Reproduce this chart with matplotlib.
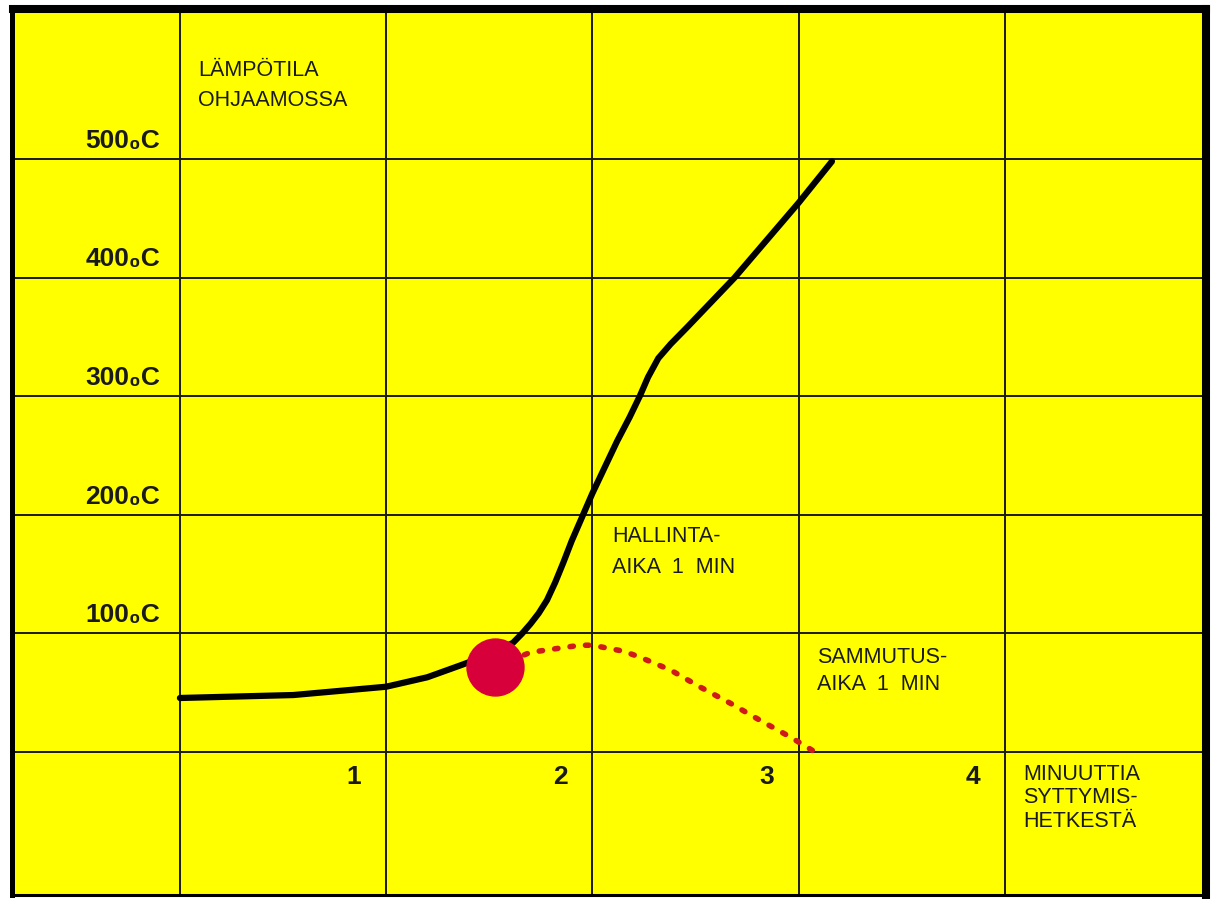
import matplotlib
matplotlib.use('Agg')
import matplotlib.pyplot as plt

# Lampotila ohjaamossa (musta kayra)
aika_min = [0, 0.55, 1.0, 1.2, 1.36, 1.5, 1.615, 1.66, 1.70, 1.74, 1.78, 1.82, 1.86,
            1.90, 1.955, 2.0, 2.06, 2.12, 2.18, 2.23, 2.27, 2.32, 2.38, 2.459,
            2.69, 3.0, 3.162]
lampotila = [45.5, 48, 55, 63, 73, 82, 92, 100, 108, 117, 128, 143, 160,
             178, 200, 218, 240, 262, 282, 300, 316, 332, 344, 358,
             400, 463, 498]

# Sammutuksen jalkeen (punainen pisteviiva)
sammutus_min = [1.53, 1.70, 1.94, 2.0, 2.15, 2.23, 2.38, 2.52, 2.67, 2.81, 2.96, 3.07]
sammutus_temp = [72, 84, 90, 90, 85, 80, 69, 55, 41, 27, 12.6, 1]

# Sammutuksen aloitushetki (punainen pallo)
pallo_min = [1.53]
pallo_temp = [72]

# Ruudukko ja akselien tekstit
minuutit = [0, 1, 2, 3, 4]
minuutti_labels = ['1', '2', '3', '4']
asteet = [100, 200, 300, 400, 500]
aste_labels = ['100₀C', '200₀C', '300₀C', '400₀C', '500₀C']

fonts = ['Liberation Sans', 'DejaVu Sans']

fig = plt.figure(figsize=(12.14, 8.99), dpi=100)
ax = fig.add_axes([12.5 / 1214, 1 - 894.5 / 899, (1206 - 12.5) / 1214, (894.5 - 9) / 899])
ax.set_xlim(-0.812, 4.976)
ax.set_ylim(-120.2, 626.5)
ax.set_facecolor('#ffff00')
ax.set_xticks([])
ax.set_yticks([])

# kehys, oikea ja yla paksumpia
ax.spines['left'].set_linewidth(3.6)
ax.spines['right'].set_linewidth(5.8)
ax.spines['top'].set_linewidth(5.8)
ax.spines['bottom'].set_linewidth(2.2)
for s in ax.spines.values():
    s.set_color('black')

for x in minuutit:
    ax.axvline(x, color='#1a1a1a', lw=1.4, zorder=1)
for y in [0] + asteet:
    ax.axhline(y, color='#1a1a1a', lw=1.4, zorder=1)

ax.plot(sammutus_min, sammutus_temp, color='#cf1a1a', lw=4,
        linestyle=(0, (0.6, 2.2)), dash_capstyle='round', zorder=2)
ax.plot(aika_min, lampotila, color='black', lw=4.5, solid_capstyle='round',
        solid_joinstyle='round', zorder=3)
ax.plot(pallo_min, pallo_temp, 'o', color='#d8003a', markersize=41, zorder=4)

# asteikot
for y, lab in zip(asteet, aste_labels):
    ax.text(-0.097, y + 9.5, lab, ha='right', va='baseline', fontsize=19,
            fontweight='bold', family=fonts, color='#1a1a1a')
for x, lab in zip(minuutit[1:], minuutti_labels):
    ax.text(x - 0.12, -27, lab, ha='right', va='baseline', fontsize=19,
            fontweight='bold', family=fonts, color='#1a1a1a')

# selitetekstit rivi kerrallaan
def teksti(x, rivit, baselinet):
    for r, y in zip(rivit, baselinet):
        ax.text(x, y, r, ha='left', va='baseline', fontsize=15.5,
                family=fonts, color='#1a1a1a')

teksti(0.087, ['LÄMPÖTILA', 'OHJAAMOSSA'], [570, 544.7])
teksti(2.095, ['HALLINTA-', 'AIKA  1  MIN'], [177.1, 150.9])
teksti(3.089, ['SAMMUTUS-', 'AIKA  1  MIN'], [75, 52.3])
teksti(4.088, ['MINUUTTIA', 'SYTTYMIS-', 'HETKESTÄ'], [-23.6, -43, -63.2])

fig.savefig('out.png', dpi=100, facecolor='white')
